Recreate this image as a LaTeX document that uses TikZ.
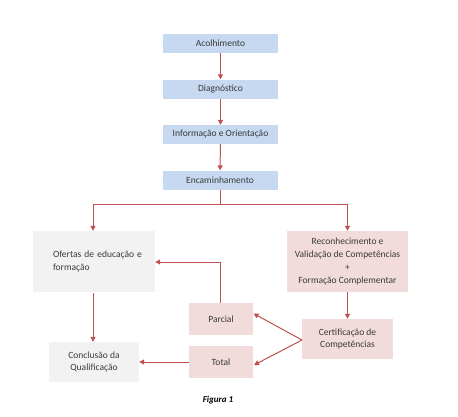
\documentclass[tikz,border=0pt]{standalone}
\usepackage{fontspec}
\setmainfont{Carlito}
\usetikzlibrary{arrows.meta}
\definecolor{bluebox}{HTML}{C6D9F1}
\definecolor{pinkbox}{HTML}{F2DCDB}
\definecolor{graybox}{HTML}{F2F2F2}
\definecolor{arrowred}{HTML}{C0504D}
\definecolor{txt}{HTML}{3A3A3A}
\tikzset{
  box/.style={rectangle, inner sep=0pt, align=center, text=txt, font=\fontsize{9.5}{12.7}\selectfont},
  bluenode/.style={box, fill=bluebox},
  pinknode/.style={box, fill=pinkbox},
  graynode/.style={box, fill=graybox},
  conn/.style={draw=arrowred, line width=1pt, -{Triangle[length=5pt,width=5pt]}},
  plain/.style={draw=arrowred, line width=1pt}
}
\begin{document}
\begin{tikzpicture}[x=1pt,y=-1pt]
\useasboundingbox (0,0) rectangle (458,416);
% boxes: centre, width, height
\node[bluenode, minimum width=115pt, minimum height=19pt] (aco) at (220.5,43.5) {Acolhimento};
\node[bluenode, minimum width=115pt, minimum height=19pt] (dia) at (220.5,89) {Diagnóstico};
\node[bluenode, minimum width=115pt, minimum height=19pt] (inf) at (220.5,134.5) {Informação e Orientação};
\node[bluenode, minimum width=115pt, minimum height=19pt] (enc) at (220,180) {Encaminhamento};
\node[graynode, minimum width=122pt, minimum height=61pt, text width=118pt, align=left] (ofe) at (94,261.5) {\hspace*{18pt}Ofertas de educação e\\\hspace*{18pt}formação};
\node[pinknode, minimum width=121pt, minimum height=61pt] (rec) at (347.5,261.5) {Reconhecimento e\\Validação de Competências\\+\\Formação Complementar};
\node[pinknode, minimum width=64pt, minimum height=32pt] (par) at (221,319) {Parcial};
\node[pinknode, minimum width=91pt, minimum height=40pt] (cer) at (347.5,339) {Certificação de\\Competências};
\node[graynode, minimum width=90pt, minimum height=40pt] (con) at (94,362) {Conclusão da\\Qualificação};
\node[pinknode, minimum width=64pt, minimum height=32pt] (tot) at (221,362) {Total};
\node[text=black, font=\fontsize{9}{11}\selectfont\bfseries\itshape] (fig) at (218,400) {Figura 1};
% connectors
\draw[conn] (aco) -- (dia);
\draw[conn] (dia) -- (inf);
\draw[conn] (inf) -- (enc);
\coordinate (split) at (220,204);
\draw[plain] (enc.south) -- (split);
\draw[conn] (split) -| (ofe.north -| 93,0);
\draw[conn] (split) -| (rec.north);
\draw[conn] (ofe.south -| 93,0) ++(0,1) -- (con.north -| 93,0);
\draw[conn] (rec.south) -- (cer.north);
\coordinate (ret) at (220,262);
\draw[conn] (par.north -| 220,0) -- (ret) -- (ofe.east |- ret);
\coordinate (cerl) at (302,340);
\draw[conn] (cerl) -- (253.5,313.5);
\draw[conn] (cerl) -- (254,365);
\draw[conn] (tot.west) -- (con.east);
\end{tikzpicture}
\end{document}
